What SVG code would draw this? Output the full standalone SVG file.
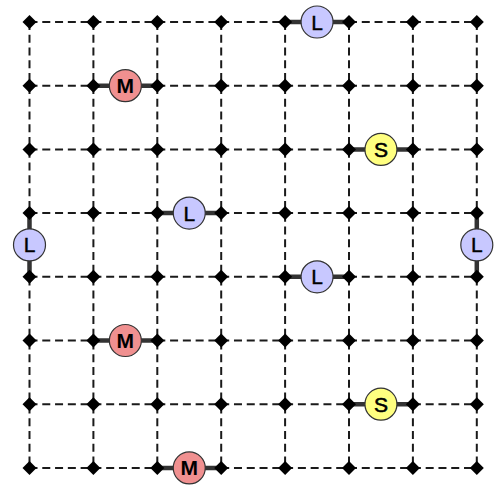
<svg xmlns="http://www.w3.org/2000/svg" xmlns:xlink="http://www.w3.org/1999/xlink" width="494" height="486" viewBox="0 0 494 486">
<style>
.grid{stroke:#1a1a1a;stroke-width:2;fill:none;stroke-dasharray:8 4.78}
.edge{stroke:#333;stroke-width:4.5;fill:none}
.nd circle{stroke:#333;stroke-width:1.2}
.L circle{fill:#c8c8ff}
.M circle{fill:#f09090}
.S circle{fill:#ffff80}
.nd text{font-family:"Liberation Sans",Arial,sans-serif;font-size:21px;fill:#000;text-anchor:middle}
.M text{font-weight:bold}
.S text{stroke:#000;stroke-width:0.6}
.L text{stroke:#000;stroke-width:0.4}
</style>
<defs>
<path id="dot" d="M0,-7 L7,0 L0,7 L-7,0 Z" fill="#000"/>
</defs>
<rect width="494" height="486" fill="#fff"/>
<g id="connectors">
<path class="grid" d="M29.5,22H476.8M29.5,85.7H476.8M29.5,149.4H476.8M29.5,213.1H476.8M29.5,276.8H476.8M29.5,340.5H476.8M29.5,404.2H476.8M29.5,467.9H476.8"/>
<path class="grid" d="M29.5,22V467.9M93.4,22V467.9M157.3,22V467.9M221.2,22V467.9M285.1,22V467.9M349,22V467.9M412.9,22V467.9M476.8,22V467.9"/>
<path class="edge" d="M285.1,22H349M93.4,85.7H157.3M349,149.4H412.9M157.3,213.1H221.2M29.5,213.1V276.8M476.8,213.1V276.8M285.1,276.8H349M93.4,340.5H157.3M349,404.2H412.9M157.3,467.9H221.2"/>
</g>
<g id="dots">
<use href="#dot" x="29.5" y="22"/><use href="#dot" x="93.4" y="22"/><use href="#dot" x="157.3" y="22"/><use href="#dot" x="221.2" y="22"/><use href="#dot" x="285.1" y="22"/><use href="#dot" x="349" y="22"/><use href="#dot" x="412.9" y="22"/><use href="#dot" x="476.8" y="22"/>
<use href="#dot" x="29.5" y="85.7"/><use href="#dot" x="93.4" y="85.7"/><use href="#dot" x="157.3" y="85.7"/><use href="#dot" x="221.2" y="85.7"/><use href="#dot" x="285.1" y="85.7"/><use href="#dot" x="349" y="85.7"/><use href="#dot" x="412.9" y="85.7"/><use href="#dot" x="476.8" y="85.7"/>
<use href="#dot" x="29.5" y="149.4"/><use href="#dot" x="93.4" y="149.4"/><use href="#dot" x="157.3" y="149.4"/><use href="#dot" x="221.2" y="149.4"/><use href="#dot" x="285.1" y="149.4"/><use href="#dot" x="349" y="149.4"/><use href="#dot" x="412.9" y="149.4"/><use href="#dot" x="476.8" y="149.4"/>
<use href="#dot" x="29.5" y="213.1"/><use href="#dot" x="93.4" y="213.1"/><use href="#dot" x="157.3" y="213.1"/><use href="#dot" x="221.2" y="213.1"/><use href="#dot" x="285.1" y="213.1"/><use href="#dot" x="349" y="213.1"/><use href="#dot" x="412.9" y="213.1"/><use href="#dot" x="476.8" y="213.1"/>
<use href="#dot" x="29.5" y="276.8"/><use href="#dot" x="93.4" y="276.8"/><use href="#dot" x="157.3" y="276.8"/><use href="#dot" x="221.2" y="276.8"/><use href="#dot" x="285.1" y="276.8"/><use href="#dot" x="349" y="276.8"/><use href="#dot" x="412.9" y="276.8"/><use href="#dot" x="476.8" y="276.8"/>
<use href="#dot" x="29.5" y="340.5"/><use href="#dot" x="93.4" y="340.5"/><use href="#dot" x="157.3" y="340.5"/><use href="#dot" x="221.2" y="340.5"/><use href="#dot" x="285.1" y="340.5"/><use href="#dot" x="349" y="340.5"/><use href="#dot" x="412.9" y="340.5"/><use href="#dot" x="476.8" y="340.5"/>
<use href="#dot" x="29.5" y="404.2"/><use href="#dot" x="93.4" y="404.2"/><use href="#dot" x="157.3" y="404.2"/><use href="#dot" x="221.2" y="404.2"/><use href="#dot" x="285.1" y="404.2"/><use href="#dot" x="349" y="404.2"/><use href="#dot" x="412.9" y="404.2"/><use href="#dot" x="476.8" y="404.2"/>
<use href="#dot" x="29.5" y="467.9"/><use href="#dot" x="93.4" y="467.9"/><use href="#dot" x="157.3" y="467.9"/><use href="#dot" x="221.2" y="467.9"/><use href="#dot" x="285.1" y="467.9"/><use href="#dot" x="349" y="467.9"/><use href="#dot" x="412.9" y="467.9"/><use href="#dot" x="476.8" y="467.9"/>
</g>
<g id="n1" class="nd L"><circle cx="317.05" cy="22" r="16"/><text x="317.05" y="29.5">L</text></g>
<g id="n2" class="nd M"><circle cx="125.35" cy="85.7" r="16"/><text x="125.35" y="93.2">M</text></g>
<g id="n3" class="nd S"><circle cx="380.95" cy="149.4" r="16"/><text x="380.95" y="156.9">S</text></g>
<g id="n4" class="nd L"><circle cx="189.25" cy="213.1" r="16"/><text x="189.25" y="220.6">L</text></g>
<g id="n5" class="nd L"><circle cx="29.5" cy="244.95" r="16"/><text x="29.5" y="252.45">L</text></g>
<g id="n6" class="nd L"><circle cx="476.8" cy="244.95" r="16"/><text x="476.8" y="252.45">L</text></g>
<g id="n7" class="nd L"><circle cx="317.05" cy="276.8" r="16"/><text x="317.05" y="284.3">L</text></g>
<g id="n8" class="nd M"><circle cx="125.35" cy="340.5" r="16"/><text x="125.35" y="348">M</text></g>
<g id="n9" class="nd S"><circle cx="380.95" cy="404.2" r="16"/><text x="380.95" y="411.7">S</text></g>
<g id="n10" class="nd M"><circle cx="189.25" cy="467.9" r="16"/><text x="189.25" y="475.4">M</text></g>
</svg>
